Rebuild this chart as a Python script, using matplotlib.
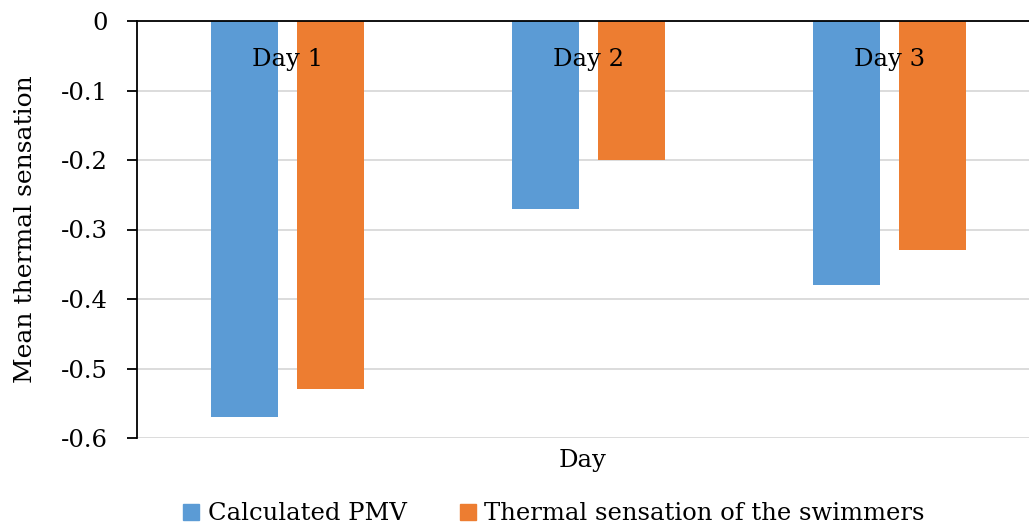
import matplotlib
matplotlib.use("Agg")
import matplotlib.pyplot as plt
from matplotlib.patches import Patch

days = ["Day 1", "Day 2", "Day 3"]
pmv = [-0.57, -0.27, -0.38]
swimmers = [-0.53, -0.20, -0.33]
series_names = ["Calculated PMV", "Thermal sensation of the swimmers"]
yticks = [0, -0.1, -0.2, -0.3, -0.4, -0.5, -0.6]
ytick_labels = ["0", "-0.1", "-0.2", "-0.3", "-0.4", "-0.5", "-0.6"]

blue = "#5B9BD5"
orange = "#ED7D31"
plt.rcParams['font.family'] = ['DejaVu Serif']
fs = 17.5

W, H = 1029, 529
fig = plt.figure(figsize=(W / 100, H / 100), dpi=100)
left_px, right_px, top_px, bot_px = 137, 1029, 21, 438
ax = fig.add_axes([left_px / W, (H - bot_px) / H, (right_px - left_px) / W, (bot_px - top_px) / H])

x = list(range(len(days)))
bw = 67 / 301
gap = 19 / 301
xs_b = [i - (bw + gap) / 2 for i in x]
xs_o = [i + (bw + gap) / 2 for i in x]
ax.bar(xs_b, pmv, width=bw, color=blue, zorder=2)
ax.bar(xs_o, swimmers, width=bw, color=orange, zorder=2)

ax.set_ylim(-0.6, 0)
ax.set_xlim(-0.5, 2.5 - (1040 - 1029) / 301)
ax.set_yticks(yticks)
ax.set_yticklabels(ytick_labels, fontsize=fs)
ax.tick_params(axis='y', direction='out', length=7, width=1.3, color='black', pad=14)
ax.set_xticks([])
ax.grid(axis='y', color='#D9D9D9', linewidth=1.3, zorder=0)
ax.set_axisbelow(True)

for s in ['right', 'bottom']:
    ax.spines[s].set_visible(False)
ax.spines['left'].set_linewidth(1.3)
ax.spines['top'].set_linewidth(1.3)
ax.spines['top'].set_zorder(3)

for i, d in zip(x, days):
    ax.text(i, -0.055, d, ha='center', va='center', fontsize=fs, zorder=5)

ax.set_ylabel("Mean thermal sensation", fontsize=18, labelpad=17)
ax.set_xlabel("Day", fontsize=fs, labelpad=8)

handles = [Patch(color=blue), Patch(color=orange)]
fig.legend(handles, series_names, loc='center', bbox_to_anchor=(554 / W, 1 - 514 / H),
           ncol=2, frameon=False, fontsize=fs, handlelength=0.65, handleheight=0.65,
           handletextpad=0.35, columnspacing=2.2)

fig.savefig("out.png", dpi=100)
